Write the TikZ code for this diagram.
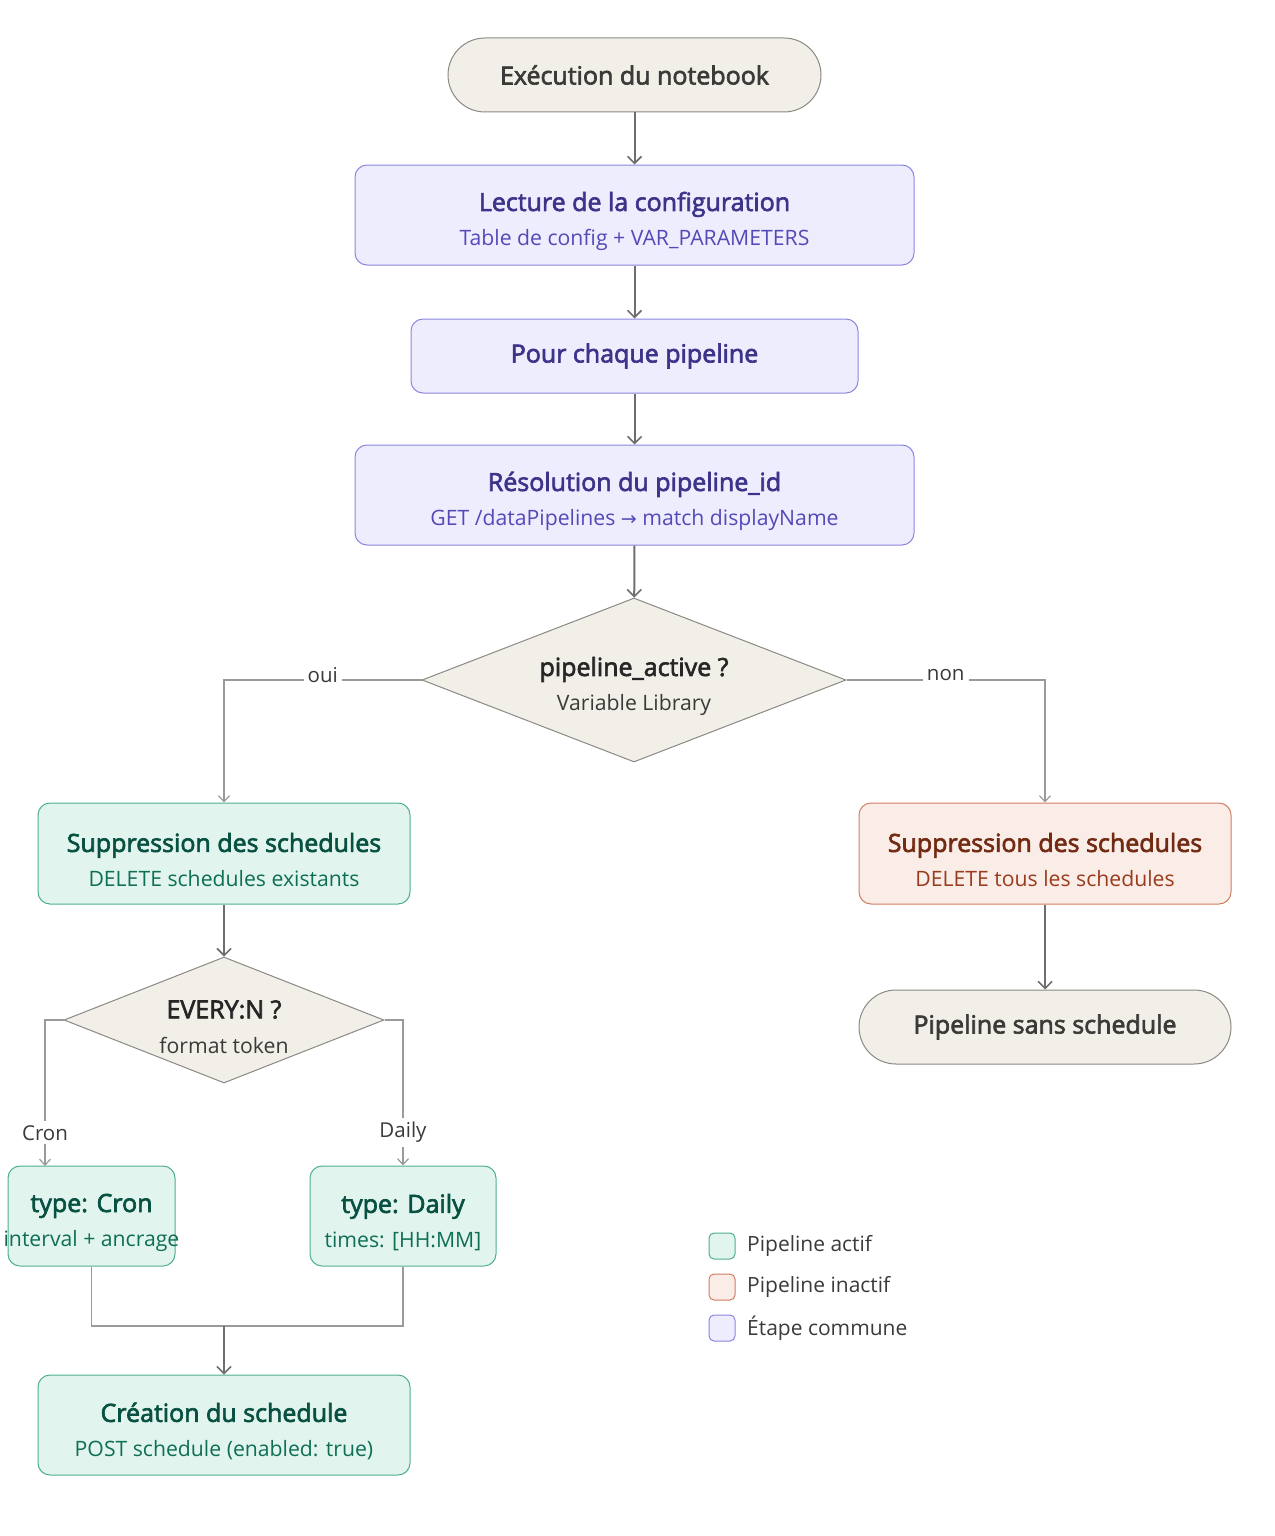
\documentclass[tikz,border=0pt]{standalone}
\usepackage{fontspec}
\setmainfont{Open Sans}
\newfontfamily\semib[FakeBold=2.6]{Open Sans}
\newfontfamily\dejavu{DejaVu Sans}
\usetikzlibrary{arrows.meta,shapes.geometric,calc}
\definecolor{pFill}{HTML}{EEEDFE}
\definecolor{pDraw}{HTML}{8C85E0}
\definecolor{pTitle}{HTML}{3C3489}
\definecolor{pSub}{HTML}{534AB7}
\definecolor{gFill}{HTML}{E1F5EE}
\definecolor{gDraw}{HTML}{4FAE8C}
\definecolor{gTitle}{HTML}{085041}
\definecolor{gSub}{HTML}{0F6E56}
\definecolor{rFill}{HTML}{FAECE7}
\definecolor{rDraw}{HTML}{D27C62}
\definecolor{rTitle}{HTML}{712B13}
\definecolor{rSub}{HTML}{993C1D}
\definecolor{nFill}{HTML}{F1EFE8}
\definecolor{nDraw}{HTML}{8A8983}
\definecolor{nText}{HTML}{3A3A38}
\definecolor{edge}{HTML}{6E6E6E}
\definecolor{edgeL}{HTML}{9A9A9A}
% title of a one-line box
\newcommand{\hdr}[2]{{\color{#1}\semib\fontsize{25}{28}\selectfont #2}}
% title of a two-line box (struts give every box the same line spacing)
\newcommand{\hdrr}[2]{{\color{#1}\semib\fontsize{25}{28}\selectfont\rule[-7pt]{0pt}{39pt}#2}}
\newcommand{\subt}[2]{{\color{#1}\fontsize{21.2}{24}\selectfont\rule{0pt}{17pt}#2}}
\begin{document}
\begin{tikzpicture}[x=1pt,y=-1pt,
  box/.style={draw, rounded corners=12pt, line width=1pt, align=center, inner sep=0pt},
  common/.style={box, fill=pFill, draw=pDraw},
  active/.style={box, fill=gFill, draw=gDraw},
  inactive/.style={box, fill=rFill, draw=rDraw},
  pill/.style={draw=nDraw, fill=nFill, line width=1pt, rounded corners=37pt, inner sep=0pt,
    text=nText, font=\semib\fontsize{25}{28}\selectfont},
  decision/.style={diamond, draw=nDraw, fill=nFill, line width=1pt, inner sep=0pt, align=center},
  arr/.style={draw=edge, line width=2pt, -{Straight Barb[length=7pt,width=14pt,line width=1.6pt]}},
  thin/.style={draw=edgeL, line width=1.5pt, -{Straight Barb[length=6pt,width=11pt,line width=1.2pt]}},
  plain/.style={draw=edgeL, line width=1.5pt},
  lbl/.style={fill=white, inner sep=4pt, text=nText, font=\fontsize{20.5}{24}\selectfont},
  leg/.style={draw, rounded corners=5pt, line width=1pt, minimum width=26pt, minimum height=26pt, inner sep=0pt},
  legtxt/.style={anchor=west, inner sep=0pt, text=nText, font=\fontsize{21}{24}\selectfont}
]
\useasboundingbox (0,0) rectangle (1274,1536);

\node[pill, minimum width=373pt, minimum height=74pt] (start) at (634.5,75) {Exécution du notebook};
\node[common, minimum width=559pt, minimum height=100pt] (lect) at (634.5,215)
  {\hdrr{pTitle}{Lecture de la configuration}\\[10pt]\subt{pSub}{Table de config + VAR\_PARAMETERS}};
\node[common, minimum width=447pt, minimum height=74pt] (pour) at (634.5,356)
  {\hdr{pTitle}{Pour chaque pipeline}};
\node[common, minimum width=559pt, minimum height=100pt] (reso) at (634.5,495)
  {\hdrr{pTitle}{Résolution du pipeline\_id}\\[10pt]\subt{pSub}{GET /dataPipelines {\dejavu\fontsize{19}{24}\selectfont →} match displayName}};
\node[decision, aspect=2.585, minimum width=424pt, minimum height=164pt] (dec) at (634,680)
  {\hdrr{black!85}{pipeline\_active ?}\\[10pt]\subt{nText}{Variable Library}};

\node[active, minimum width=372pt, minimum height=101pt] (gdel) at (224,853.5)
  {\hdrr{gTitle}{Suppression des schedules}\\[10pt]\subt{gSub}{DELETE schedules existants}};
\node[inactive, minimum width=372pt, minimum height=101pt] (rdel) at (1045,853.5)
  {\hdrr{rTitle}{Suppression des schedules}\\[10pt]\subt{rSub}{DELETE tous les schedules}};
\node[pill, minimum width=372pt, minimum height=74pt] (sans) at (1045,1027) {Pipeline sans schedule};

\node[decision, aspect=2.54, minimum width=320pt, minimum height=126pt] (dec2) at (224,1020)
  {\hdrr{black!85}{EVERY:N ?}\\[10pt]\subt{nText}{format token}};

\node[active, minimum width=167pt, minimum height=100pt] (cron) at (91.5,1216)
  {\hdrr{gTitle}{type: Cron}\\[10pt]\makebox[0pt][c]{\subt{gSub}{interval + ancrage}}};
\node[active, minimum width=186pt, minimum height=100pt] (daily) at (403,1216)
  {\hdrr{gTitle}{type: Daily}\\[10pt]\subt{gSub}{times: [HH:MM]}};
\node[active, minimum width=372pt, minimum height=100pt] (crea) at (224,1425)
  {\hdrr{gTitle}{Création du schedule}\\[10pt]\subt{gSub}{POST schedule (enabled: true)}};

\coordinate (cronin) at (45,1166);
\coordinate (merge) at (224,1326);

\draw[arr] (start) -- (lect);
\draw[arr] (lect) -- (pour);
\draw[arr] (pour) -- (reso);
\draw[arr] (reso) -- (dec);
\draw[thin] (dec.west) -| node[lbl, pos=0.25, yshift=5pt] (oui) {oui} (gdel.north);
\draw[thin] (dec.east) -| node[lbl, pos=0.25, yshift=5pt] (non) {non} (rdel.north);
\draw[arr] (gdel) -- (dec2);
\draw[arr] (rdel) -- (sans);
\draw[thin] (dec2.west) -| node[lbl, pos=0.886] (lcron) {Cron} (cronin);
\draw[thin] (dec2.east) -| node[lbl, pos=0.886] (ldaily) {Daily} (daily.north);
\draw[plain] (cron.south) |- (merge) -| (daily.south);
\draw[arr] (merge) -- (crea.north);

\node[leg, fill=gFill, draw=gDraw] (lg1) at (722,1246) {};
\node[leg, fill=rFill, draw=rDraw] (lg2) at (722,1287) {};
\node[leg, fill=pFill, draw=pDraw] (lg3) at (722,1328) {};
\node[legtxt] (lt1) at (747,1246) {Pipeline actif};
\node[legtxt] (lt2) at (747,1287) {Pipeline inactif};
\node[legtxt] (lt3) at (747,1328) {Étape commune};
\end{tikzpicture}
\end{document}
